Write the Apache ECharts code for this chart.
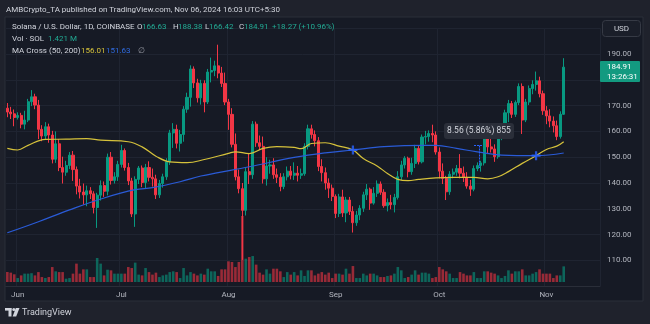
<!DOCTYPE html>
<html>
<head>
<meta charset="utf-8">
<script src="https://cdn.jsdelivr.net/npm/echarts@6/dist/echarts.min.js"></script>
<style>
  html, body { margin: 0; padding: 0; background: #1f222c; }
  #chart { width: 650px; height: 324px; }
</style>
</head>
<body>
<div id="chart"></div>
<script>
// ---- Daily SOL/USD candles, 2024-05-29 .. 2024-11-06 ----
const firstDay = '2024-05-29';
const opens = [
  169.0,167.5,166.8,165.4,166.2,162.8,164.4,171.5,173.4,170.2,
  160.8,158.2,161.8,158.6,149.2,155.2,146.0,144.2,146.8,150.8,
  145.2,138.8,136.5,135.4,137.0,135.8,130.5,135.3,139.0,136.8,
  150.0,141.0,142.4,147.2,152.6,146.0,140.8,128.0,141.4,145.8,
  140.2,146.0,142.2,141.6,135.4,139.8,142.4,148.2,159.4,160.8,
  155.4,158.8,168.6,173.2,184.2,178.8,173.0,178.6,171.4,183.0,
  183.6,185.4,182.6,178.6,171.4,166.6,155.0,142.4,137.8,129.4,
  144.4,143.2,162.8,155.6,154.2,141.6,146.6,147.0,143.2,142.2,
  138.6,142.4,144.6,143.0,143.8,143.0,143.6,154.2,161.0,158.8,
  156.4,146.4,144.0,140.0,138.0,134.8,128.2,134.6,128.4,133.4,
  129.0,124.6,127.6,130.2,135.4,137.6,132.2,136.0,139.6,136.4,
  131.2,132.4,131.6,134.4,142.4,147.0,149.6,144.4,147.6,153.4,
  148.2,157.8,158.0,159.2,158.6,152.0,144.6,141.8,136.6,143.4,
  144.2,145.6,143.8,142.2,138.8,137.6,145.6,146.8,147.8,157.8,
  154.0,153.2,150.2,157.6,159.8,167.2,170.8,166.6,171.2,177.4,
  164.4,171.4,176.6,178.2,179.6,174.6,168.0,166.0,164.0,162.2,
  158.0,166.63
];
const closes = [
  167.5,166.8,165.4,166.2,162.8,164.4,171.5,173.4,170.2,160.8,
  158.2,161.8,158.6,149.2,155.2,146.0,144.2,146.8,150.8,145.2,
  138.8,136.5,135.4,137.0,135.8,130.5,135.3,139.0,136.8,150.0,
  141.0,142.4,147.2,152.6,146.0,140.8,128.0,141.4,145.8,140.2,
  146.0,142.2,141.6,135.4,139.8,142.4,148.2,159.4,160.8,155.4,
  158.8,168.6,173.2,184.2,178.8,173.0,178.6,171.4,183.0,183.6,
  185.4,182.6,178.6,171.4,166.6,155.0,142.4,137.8,129.4,144.4,
  143.2,162.8,155.6,154.2,141.6,146.6,147.0,143.2,142.2,138.6,
  142.4,144.6,143.0,143.8,143.0,143.6,154.2,161.0,158.8,156.4,
  146.4,144.0,140.0,138.0,134.8,128.2,134.6,128.4,133.4,129.0,
  124.6,127.6,130.2,135.4,137.6,132.2,136.0,139.6,136.4,131.2,
  132.4,131.6,134.4,142.4,147.0,149.6,144.4,147.6,153.4,148.2,
  157.8,158.0,159.2,158.6,152.0,144.6,141.8,136.6,143.4,144.2,
  145.6,143.8,142.2,138.8,137.6,145.6,146.8,147.8,157.8,154.0,
  153.2,150.2,157.6,159.8,167.2,170.8,166.6,171.2,177.4,164.4,
  171.4,176.6,178.2,179.6,174.6,168.0,166.0,164.0,162.2,158.0,
  166.63,184.91
];
const lows = [
  165.5,164.8,162.0,164.6,161.2,160.8,163.6,169.8,168.6,157.0,
  156.2,157.0,155.6,147.6,147.8,144.6,139.8,142.8,145.4,140.8,
  135.6,134.0,131.6,131.0,133.8,128.2,122.6,133.2,134.6,135.2,
  139.4,139.8,140.8,146.0,144.8,139.2,126.8,123.0,139.6,138.4,
  137.8,140.6,138.6,133.8,134.2,138.2,141.2,147.0,153.6,153.4,
  152.2,156.0,167.2,169.6,176.8,171.2,170.4,167.4,170.6,179.0,
  181.4,180.6,177.2,170.2,160.6,153.8,141.0,136.0,110.2,127.4,
  139.6,141.6,154.0,152.8,139.8,139.0,143.6,141.6,140.0,136.8,
  137.6,141.0,141.4,141.2,140.6,141.6,142.8,153.0,157.2,154.2,
  144.6,140.6,137.4,134.2,133.0,126.4,126.8,126.8,124.8,127.6,
  120.8,123.4,125.6,128.8,133.4,129.6,131.6,134.6,135.4,130.4,
  129.0,129.8,128.6,133.6,141.2,145.6,142.2,143.2,145.8,147.2,
  147.6,155.0,156.0,155.8,151.0,141.8,139.6,133.4,135.4,141.8,
  142.8,141.8,140.4,137.8,135.0,136.8,144.6,144.4,146.8,151.2,
  151.8,148.2,149.4,156.6,158.4,163.6,165.2,165.6,170.2,159.0,
  163.6,170.2,174.4,175.8,173.2,166.4,162.8,161.6,159.6,156.6,
  157.2,166.42
];
const highs = [
  171.0,169.5,168.5,167.4,167.2,168.0,172.6,176.0,174.6,172.2,
  162.4,163.6,163.0,160.2,160.0,157.0,150.2,148.6,152.0,152.4,
  146.4,141.6,139.8,139.0,138.4,136.8,136.2,141.0,140.6,151.4,
  152.0,144.2,148.6,154.8,153.4,147.8,142.0,142.6,146.6,146.8,
  147.4,148.4,145.6,143.2,141.2,143.6,149.6,160.6,163.2,162.6,
  160.6,169.8,175.0,185.6,185.2,180.4,180.0,179.8,184.2,188.6,
  187.4,193.6,185.0,182.8,172.6,169.0,159.2,145.2,140.0,146.0,
  151.6,164.0,163.8,158.4,158.0,150.0,149.0,149.6,145.6,143.8,
  143.8,146.4,146.6,148.0,146.6,145.6,155.4,162.6,162.6,160.4,
  157.8,149.2,146.0,141.8,139.4,135.6,135.8,137.4,134.6,134.6,
  131.0,129.2,131.4,136.6,139.6,138.2,138.4,141.0,140.6,137.6,
  134.0,135.4,135.8,144.6,148.6,150.4,150.2,149.8,154.8,154.6,
  158.8,160.2,160.4,162.6,160.0,153.8,147.6,142.8,144.6,145.6,
  147.0,151.2,146.4,144.2,141.2,146.8,148.0,148.6,159.4,159.4,
  157.8,155.0,158.6,160.8,168.4,172.2,171.8,172.0,178.6,178.6,
  172.6,177.8,179.8,183.2,181.2,175.8,169.8,168.6,165.8,164.2,
  167.8,188.38
];
// traded volume, millions of SOL
const volumes = [
  0.91,0.85,0.70,0.36,0.60,0.76,0.76,0.80,0.60,0.90,
  0.45,0.36,0.45,1.36,0.97,0.90,0.90,0.30,0.36,0.76,
  1.67,0.76,1.15,1.15,0.45,0.45,2.18,1.67,0.60,1.12,
  1.06,0.76,0.76,0.76,0.76,1.36,1.27,1.76,0.67,0.60,
  1.27,0.90,0.67,0.85,0.45,0.60,0.67,0.90,0.97,0.90,
  0.36,1.27,0.60,0.90,0.76,0.60,0.76,0.67,1.21,0.97,
  0.97,0.55,1.15,1.15,1.88,1.82,1.36,1.82,6.00,2.12,
  2.27,2.36,1.58,0.85,0.67,1.15,0.76,1.21,1.21,0.97,
  0.45,0.90,0.67,0.90,0.60,1.06,0.55,1.06,1.06,0.60,
  0.76,0.90,0.67,0.85,0.36,0.76,0.76,0.67,1.21,0.76,
  1.45,0.36,0.36,0.76,0.60,0.76,0.76,0.60,0.45,0.45,
  0.55,0.60,0.76,1.36,1.06,0.36,0.45,0.67,1.06,0.67,
  0.85,0.85,0.76,0.36,0.45,1.36,1.15,0.97,0.76,0.36,
  0.36,0.90,0.76,0.60,0.60,0.90,0.36,0.36,0.97,0.97,
  0.85,0.76,0.60,0.36,0.55,1.06,0.76,0.97,0.97,1.15,
  0.60,0.60,0.76,0.90,1.15,0.76,0.76,0.76,0.36,0.60,
  0.60,1.421
];
// MA Cross (50, 200) readings
const ma50 = [
  ['2024-05-29',153.4],['2024-06-01',152.8],['2024-06-04',154.6],['2024-06-09',156.9],
  ['2024-06-15',157.0],['2024-06-21',157.2],['2024-06-25',156.6],['2024-07-03',156.0],
  ['2024-07-07',154.0],['2024-07-11',150.4],['2024-07-15',148.2],['2024-07-20',147.9],
  ['2024-07-25',149.1],['2024-08-01',151.5],['2024-08-03',152.1],['2024-08-07',151.4],
  ['2024-08-11',153.4],['2024-08-15',154.1],['2024-08-20',153.8],['2024-08-22',153.3],
  ['2024-08-25',155.3],['2024-08-29',155.6],['2024-09-02',154.3],['2024-09-06',152.8],
  ['2024-09-09',149.5],['2024-09-13',146.6],['2024-09-16',143.7],['2024-09-19',141.4],
  ['2024-09-22',140.9],['2024-09-25',141.4],['2024-09-30',142.0],['2024-10-05',142.2],
  ['2024-10-11',142.2],['2024-10-15',141.6],['2024-10-18',142.4],['2024-10-21',144.4],
  ['2024-10-25',147.6],['2024-10-29',150.6],['2024-11-01',153.0],['2024-11-04',154.3],
  ['2024-11-06',156.01]
];
const ma200 = [
  ['2024-05-29',120.7],['2024-06-07',125.0],['2024-06-16',129.6],['2024-06-26',134.2],
  ['2024-07-05',137.4],['2024-07-10',138.2],['2024-07-18',140.5],['2024-07-24',142.7],
  ['2024-07-29',144.0],['2024-08-07',146.3],['2024-08-20',149.9],['2024-08-29',151.7],
  ['2024-09-06',152.8],['2024-09-15',154.1],['2024-09-27',154.6],['2024-09-30',154.6],
  ['2024-10-06',153.4],['2024-10-12',152.1],['2024-10-19',150.8],['2024-10-29',150.6],
  ['2024-11-06',151.63]
];
const crossDates = ['2024-09-06', '2024-10-29'];
const crossValues = [152.8, 150.6];
const monthNames = ['Jan','Feb','Mar','Apr','May','Jun','Jul','Aug','Sep','Oct','Nov','Dec'];

// day slots on the time scale (a few empty days to the right of the last bar)
const slotCount = 172;
const categories = [];
const t0 = Date.parse(firstDay + 'T00:00:00Z');
for (let k = 0; k < slotCount; k++) {
  categories.push(new Date(t0 + k * 86400000).toISOString().slice(0, 10));
}
const isMonthStart = (idx, val) => categories[idx].slice(8) === '01';

const candles = opens.map((o, i) => [o, closes[i], lows[i], highs[i]]);
const volBars = volumes.map((v, i) => ({
  value: v,
  itemStyle: { color: closes[i] >= opens[i] ? 'rgba(8,153,129,0.6)' : 'rgba(242,54,69,0.6)' }
}));

const UP = '#089981', DOWN = '#f23645';
const FONT = 'Roboto, "Liberation Sans", sans-serif';
const TXT = '#d1d4dc';

const chart = echarts.init(document.getElementById('chart'), null, { renderer: 'canvas' });

function txt(x, y, s, color, size, extra) {
  return Object.assign({
    type: 'text', x: x, y: y, z: 50,
    style: { text: s, fill: color || TXT, font: (size || 8) + 'px ' + FONT, textVerticalAlign: 'middle' }
  }, extra || {});
}

chart.setOption({
  backgroundColor: '#1f222c',
  animation: false,
  grid: [
    { left: 5.6, right: 50, top: 28.2, height: 258 },
    { left: 5.6, right: 50, top: 216, height: 66 }
  ],
  xAxis: [
    {
      type: 'category', gridIndex: 0, data: categories, boundaryGap: true,
      axisLine: { lineStyle: { color: '#2a2e39' } },
      axisTick: { show: false },
      axisLabel: {
        interval: isMonthStart, color: '#b2b5be', fontSize: 8, fontFamily: FONT, margin: 5,
        formatter: v => monthNames[parseInt(v.slice(5, 7), 10) - 1]
      },
      splitLine: { show: true, interval: isMonthStart, lineStyle: { color: '#1f2431', width: 1 } }
    },
    { type: 'category', gridIndex: 1, data: categories, boundaryGap: true, show: false }
  ],
  yAxis: [
    {
      type: 'value', gridIndex: 0, position: 'right', min: 100, max: 200, interval: 10,
      axisLine: { show: false }, axisTick: { show: false },
      axisLabel: {
        color: '#b2b5be', fontSize: 8, fontFamily: FONT, margin: 7,
        formatter: v => (v > 100 && v < 200) ? v.toFixed(2) : ''
      },
      splitLine: { lineStyle: { color: '#1f2431', width: 1 } }
    },
    { type: 'value', gridIndex: 1, min: 0, max: 6, show: false }
  ],
  series: [
    {
      name: 'Volume', type: 'bar', xAxisIndex: 1, yAxisIndex: 1,
      data: volBars, barWidth: '75%', z: 1, silent: true
    },
    {
      name: 'SOLUSD', type: 'candlestick', xAxisIndex: 0, yAxisIndex: 0,
      data: candles, barWidth: '75%', z: 3,
      itemStyle: { color: UP, color0: DOWN, borderColor: UP, borderColor0: DOWN, borderWidth: 1 }
    },
    {
      name: 'MA 50', type: 'line', data: ma50, smooth: 0.4, showSymbol: false, z: 4,
      lineStyle: { color: '#d6c23b', width: 1.2 }
    },
    {
      name: 'MA 200', type: 'line', data: ma200, smooth: 0.4, showSymbol: false, z: 4,
      lineStyle: { color: '#2a5bd7', width: 1.2 }
    },
    {
      name: 'Cross', type: 'scatter', z: 5,
      data: crossDates.map((d, i) => [d, crossValues[i]]),
      symbol: 'path://M3,0H5V3H8V5H5V8H3V5H0V3H3Z', symbolSize: 9,
      itemStyle: { color: '#2962ff' }
    }
  ],
  graphic: [
    // chart pane
    { type: 'rect', z: -100, shape: { x: 5, y: 17, width: 638, height: 284 },
      style: { fill: '#161a25', stroke: '#2a2e39', lineWidth: 1 } },
    // header
    txt(6, 10, 'AMBCrypto_TA published on TradingView.com, Nov 06, 2024 16:03 UTC+5:30', TXT, 8),
    txt(12, 27, 'Solana / U.S. Dollar, 1D, COINBASE', TXT, 8),
    txt(137, 27, 'O', TXT, 8), txt(142, 27, '166.63', '#22ab94', 8),
    txt(173, 27, 'H', TXT, 8), txt(178, 27, '188.38', '#22ab94', 8),
    txt(205, 27, 'L', TXT, 8), txt(209, 27, '166.42', '#22ab94', 8),
    txt(239, 27, 'C', TXT, 8), txt(244, 27, '184.91', '#22ab94', 8),
    txt(272, 27, '+18.27 (+10.96%)', '#22ab94', 8),
    txt(12, 39, 'Vol · SOL', TXT, 8), txt(48, 39, '1.421 M', '#22ab94', 8),
    txt(12, 51, 'MA Cross (50, 200)', TXT, 8),
    txt(81, 51, '156.01', '#d6c23b', 8), txt(106, 51, '151.63', '#2f6be0', 8),
    txt(138, 51, '∅', '#9598a1', 8),
    // currency box
    { type: 'rect', z: 50, shape: { x: 602.5, y: 20.5, width: 38, height: 16, r: 3 },
      style: { fill: '#1a1e29', stroke: '#363a45', lineWidth: 1 } },
    txt(621.5, 29, 'USD', TXT, 8, { style: { text: 'USD', fill: TXT, font: '8px ' + FONT, textAlign: 'center', textVerticalAlign: 'middle' } }),
    // last price tag
    { type: 'rect', z: 50, shape: { x: 600, y: 61, width: 40, height: 21, r: 1 }, style: { fill: '#139a80' } },
    txt(607, 66.5, '184.91', '#ffffff', 8),
    txt(607, 76.5, '13:26:31', '#ffffff', 8),
    // measure tool
    { type: 'polyline', z: 40, shape: { points: [[474, 145.5], [483, 145.5]] },
      style: { stroke: '#2962ff', lineWidth: 1, lineDash: [2, 1] } },
    { type: 'polyline', z: 40, shape: { points: [[479.5, 145.5], [479.5, 168]] },
      style: { stroke: '#2962ff', lineWidth: 1, lineDash: [2, 1] } },
    { type: 'rect', z: 50, shape: { x: 444, y: 123, width: 70, height: 16, r: 3 },
      style: { fill: '#2a2e39' } },
    txt(479, 131, '8.56 (5.86%) 855', TXT, 8.5,
      { style: { text: '8.56 (5.86%) 855', fill: TXT, font: '8.5px ' + FONT, textAlign: 'center', textVerticalAlign: 'middle' } }),
    // footer logo
    { type: 'rect', z: 50, shape: { x: 5, y: 308, width: 6.5, height: 2.6 }, style: { fill: TXT } },
    { type: 'rect', z: 50, shape: { x: 8.5, y: 308, width: 3, height: 8.5 }, style: { fill: TXT } },
    { type: 'circle', z: 50, shape: { cx: 13.8, cy: 309.5, r: 1.5 }, style: { fill: TXT } },
    { type: 'polygon', z: 50, shape: { points: [[15.8, 308], [19.5, 308], [16.2, 316.5], [12.6, 316.5]] }, style: { fill: TXT } },
    txt(22, 312.5, 'TradingView', TXT, 9)
  ]
});
</script>
</body>
</html>
